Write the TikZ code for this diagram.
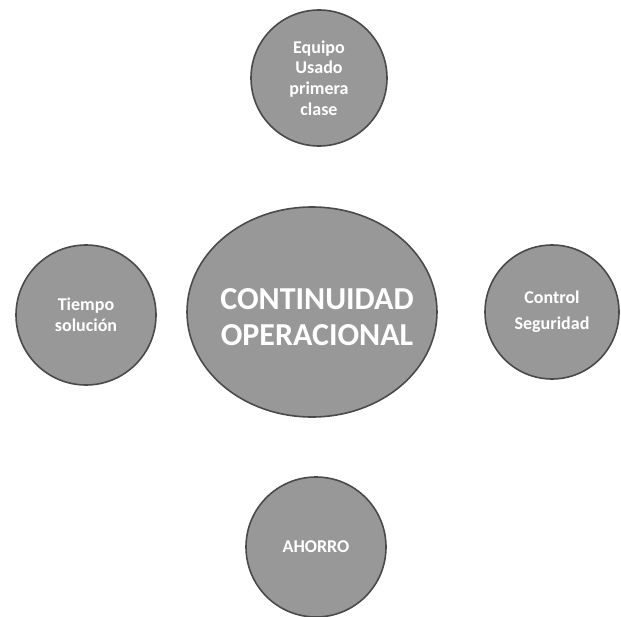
\documentclass[tikz,border=0pt]{standalone}
\usepackage{fontspec}
\setmainfont{Carlito}
\usetikzlibrary{shapes.geometric}
\definecolor{blobfill}{HTML}{989898}
\definecolor{blobedge}{HTML}{4A4A4A}
\tikzset{
  blob/.style={circle, fill=blobfill, draw=blobedge, line width=1.2pt, inner sep=0pt, align=center, text=white, font=\fontsize{13.5}{15.5}\selectfont\bfseries},
  bigblob/.style={ellipse, fill=blobfill, draw=blobedge, line width=1.2pt, inner sep=0pt},
  bigtext/.style={align=center, text=white, inner sep=0pt, font=\fontsize{24}{26.5}\selectfont\bfseries},
}
\begin{document}
\begin{tikzpicture}[x=0.75pt,y=-0.75pt]
\useasboundingbox (0,0) rectangle (621,617);
\node[bigblob, minimum width=250*0.75pt, minimum height=210*0.75pt] (center) at (312,312) {};
\node[bigtext] (centertext) at (317,317) {CONTINUIDAD\\OPERACIONAL};
\node[blob, minimum size=136*0.75pt] (top) at (319,78) {Equipo\\Usado\\primera\\clase};
\node[blob, minimum size=140*0.75pt] (left) at (86,315) {Tiempo\\solución};
\node[blob, minimum size=134*0.75pt] (right) at (552,312) {Control\\[4pt]Seguridad};
\node[blob, minimum size=140*0.75pt] (bottom) at (316,547) {AHORRO};
\end{tikzpicture}
\end{document}
